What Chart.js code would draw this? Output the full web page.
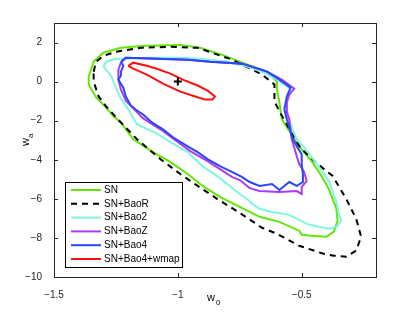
<!DOCTYPE html>
<html>
<head>
<meta charset="utf-8">
<script src="https://cdn.jsdelivr.net/npm/chart.js@4.4.0/dist/chart.umd.min.js"></script>
<style>body{margin:0;background:#fff}</style>
</head>
<body>
<canvas id="c" width="415" height="313"></canvas>
<script>
// --- data (w0, wa) ---
const xTicks = [-1.5, -1, -0.5];
const yTicks = [-10, -8, -6, -4, -2, 0, 2];
const labels = ['SN', 'SN+BaoR', 'SN+Bao2', 'SN+BaoZ', 'SN+Bao4', 'SN+Bao4+wmap'];

const snX = [-1.36,-1.34,-1.30,-1.23,-1.13,-0.99,-0.91,-0.81,-0.74,-0.64,-0.60,-0.60,-0.59,-0.58,-0.56,-0.51,-0.46,-0.43,-0.39,-0.36,-0.355,-0.37,-0.40,-0.46,-0.50,-0.51,-0.59,-0.67,-0.71,-0.75,-0.83,-0.90,-0.96,-1.03,-1.10,-1.18,-1.23,-1.26,-1.29,-1.33,-1.36,-1.36];
const snY = [0.25,1.02,1.48,1.73,1.83,1.88,1.73,1.32,0.97,0.51,0,-0.41,-1.07,-1.93,-2.34,-3.31,-4.07,-4.63,-5.50,-6.51,-7.12,-7.68,-7.94,-7.89,-7.84,-7.63,-7.18,-6.92,-6.67,-6.41,-5.90,-5.34,-4.73,-4.12,-3.61,-2.95,-2.09,-1.78,-1.32,-0.81,-0.15,0.25];

const baoRX = [-1.34,-1.33,-1.30,-1.25,-1.15,-1.03,-0.92,-0.78,-0.66,-0.61,-0.61,-0.61,-0.585,-0.56,-0.52,-0.50,-0.44,-0.375,-0.32,-0.28,-0.26,-0.28,-0.32,-0.37,-0.415,-0.51,-0.60,-0.66,-0.75,-0.84,-0.92,-0.99,-1.07,-1.165,-1.23,-1.29,-1.32,-1.34,-1.34];
const baoRY = [0.51,1.02,1.32,1.53,1.73,1.78,1.73,1.12,0.36,-0.15,-0.56,-1.02,-1.63,-2.19,-3.10,-3.46,-4.17,-4.83,-6.01,-7.02,-7.94,-8.65,-8.96,-8.91,-8.80,-8.40,-7.79,-7.48,-6.72,-6.01,-5.34,-4.73,-3.97,-2.95,-2.09,-1.27,-0.76,0,0.51];

const bao2X = [-1.30,-1.29,-1.25,-1.21,-1.13,-0.99,-0.91,-0.80,-0.73,-0.66,-0.60,-0.545,-0.55,-0.56,-0.56,-0.55,-0.52,-0.48,-0.43,-0.39,-0.36,-0.35,-0.34,-0.36,-0.39,-0.43,-0.48,-0.55,-0.62,-0.67,-0.70,-0.72,-0.75,-0.83,-0.90,-0.96,-1.03,-1.085,-1.165,-1.20,-1.23,-1.25,-1.27,-1.29,-1.30];
const bao2Y = [0.76,1.02,1.17,1.17,1.22,1.22,1.17,1.02,0.81,0.51,0.10,-0.36,-0.61,-1.02,-1.68,-2.04,-2.95,-3.51,-4.38,-5.09,-6.16,-6.77,-7.12,-7.43,-7.53,-7.43,-7.28,-6.82,-6.67,-6.51,-6.26,-6.01,-5.75,-4.94,-4.33,-3.61,-3.10,-2.65,-2.19,-1.42,-0.87,-0.31,0.31,0.61,0.76];

const baoZX = [-1.23,-1.21,-1.085,-0.96,-0.87,-0.74,-0.64,-0.58,-0.53,-0.55,-0.56,-0.56,-0.55,-0.54,-0.52,-0.51,-0.49,-0.48,-0.50,-0.50,-0.52,-0.59,-0.67,-0.71,-0.75,-0.78,-0.83,-0.88,-0.95,-1.01,-1.07,-1.14,-1.18,-1.21,-1.23,-1.24,-1.24,-1.23];
const baoZY = [0.97,1.22,1.17,1.12,1.02,0.92,0.51,0.10,-0.36,-0.66,-1.07,-1.53,-1.93,-2.95,-3.82,-4.22,-4.63,-5.09,-5.39,-5.75,-5.60,-5.65,-5.60,-5.45,-5.04,-4.89,-4.48,-4.07,-3.56,-3.00,-2.44,-1.88,-1.37,-0.97,-0.41,0.10,0.61,0.97];

const bao4X = [-1.23,-1.21,-1.085,-0.96,-0.87,-0.74,-0.64,-0.59,-0.545,-0.56,-0.57,-0.56,-0.55,-0.54,-0.52,-0.50,-0.50,-0.495,-0.495,-0.52,-0.55,-0.59,-0.62,-0.67,-0.71,-0.74,-0.78,-0.83,-0.88,-0.92,-0.96,-1.02,-1.06,-1.105,-1.14,-1.165,-1.19,-1.21,-1.22,-1.24,-1.23,-1.23,-1.22,-1.23];
const bao4Y = [1.02,1.22,1.17,1.12,1.02,0.92,0.51,0.10,-0.31,-0.76,-1.42,-1.93,-2.34,-2.80,-3.31,-3.72,-4.22,-4.73,-5.14,-5.34,-5.14,-5.55,-5.24,-5.34,-5.14,-4.89,-4.63,-4.33,-3.97,-3.61,-3.31,-2.85,-2.44,-2.09,-1.68,-1.48,-1.22,-0.76,-0.31,0.10,0.31,0.51,0.81,1.02];

const wmapX = [-1.20,-1.18,-1.125,-1.085,-1.03,-0.98,-0.92,-0.88,-0.85,-0.86,-0.89,-0.93,-0.99,-1.06,-1.125,-1.18,-1.20];
const wmapY = [0.81,0.97,0.81,0.66,0.41,0.10,-0.20,-0.46,-0.76,-0.92,-0.92,-0.76,-0.51,-0.10,0.36,0.66,0.81];

const bestX = [-1];
const bestY = [0];

const colors = ['#62e60a', '#000000', '#80f5e0', '#aa3cf5', '#2846fa', '#ff1010'];

function pts(xs, ys) {
    return xs.map((x, i) => ({x: x, y: ys[i]}));
}

const series = [[snX, snY], [baoRX, baoRY], [bao2X, bao2Y], [baoZX, baoZY], [bao4X, bao4Y], [wmapX, wmapY]];

const datasets = series.map((s, i) => ({
    label: labels[i],
    data: pts(s[0], s[1]),
    showLine: true,
    borderColor: colors[i],
    borderWidth: 2,
    borderDash: i === 1 ? [6, 5] : [],
    pointRadius: 0,
    tension: 0,
    order: 6 - i
}));
datasets.push({
    label: 'best',
    data: pts(bestX, bestY),
    pointStyle: 'cross',
    pointRadius: 4,
    borderColor: '#000',
    borderWidth: 2,
    order: 0
});

const FONT = "'Liberation Sans', Arial, sans-serif";

// caja, marcas hacia dentro, títulos con subíndice y leyenda
const frame = {
    id: 'frame',
    afterDraw(chart) {
        const {ctx, chartArea: a, scales: {x, y}} = chart;
        ctx.save();
        ctx.strokeStyle = '#262626';
        ctx.lineWidth = 1;
        ctx.strokeRect(a.left + 0.5, a.top + 0.5, a.right - a.left, a.bottom - a.top);
        ctx.beginPath();
        xTicks.forEach(v => {
            const px = Math.round(x.getPixelForValue(v)) + 0.5;
            ctx.moveTo(px, a.bottom); ctx.lineTo(px, a.bottom - 4);
            ctx.moveTo(px, a.top); ctx.lineTo(px, a.top + 4);
        });
        yTicks.forEach(v => {
            const py = Math.round(y.getPixelForValue(v)) + 0.5;
            ctx.moveTo(a.left, py); ctx.lineTo(a.left + 4, py);
            ctx.moveTo(a.right, py); ctx.lineTo(a.right - 4, py);
        });
        ctx.stroke();

        // títulos de ejes
        ctx.fillStyle = '#000';
        ctx.textBaseline = 'alphabetic';
        ctx.font = '11px ' + FONT;
        ctx.fillText('w', 207, 301);
        ctx.font = '8px ' + FONT;
        ctx.fillText('0', 216, 305);
        ctx.save();
        ctx.translate(29, 146);
        ctx.rotate(-Math.PI / 2);
        ctx.font = '11px ' + FONT;
        ctx.fillText('w', 0, 0);
        ctx.font = '8px ' + FONT;
        ctx.fillText('a', 8, 4);
        ctx.restore();

        // leyenda
        const lx = 65, ly = 182, lw = 117, lh = 85;
        ctx.fillStyle = '#fff';
        ctx.fillRect(lx, ly, lw, lh);
        ctx.strokeStyle = '#000';
        ctx.strokeRect(lx + 0.5, ly + 0.5, lw, lh);
        ctx.font = '10px ' + FONT;
        ctx.textBaseline = 'middle';
        labels.forEach((lab, i) => {
            const ry = 190 + i * 13.8;
            ctx.beginPath();
            ctx.strokeStyle = colors[i];
            ctx.lineWidth = 2;
            ctx.setLineDash(i === 1 ? [6, 5] : []);
            ctx.moveTo(71, ry); ctx.lineTo(101, ry);
            ctx.stroke();
            ctx.setLineDash([]);
            ctx.fillStyle = '#000';
            ctx.fillText(lab, 104, ry);
        });
        ctx.restore();
    }
};

const fmt = v => String(v).replace('-', '\u2212');

new Chart(document.getElementById('c'), {
    type: 'scatter',
    data: {datasets: datasets},
    options: {
        responsive: false,
        animation: false,
        devicePixelRatio: 1,
        layout: {padding: {top: 23, right: 39, left: 0, bottom: 0}},
        plugins: {legend: {display: false}, tooltip: {enabled: false}},
        scales: {
            x: {
                type: 'linear', min: -1.5, max: -0.2,
                grid: {display: false}, border: {display: false},
                afterBuildTicks: axis => { axis.ticks = xTicks.map(v => ({value: v})); },
                afterFit: s => { s.height = 36; },
                ticks: {padding: 4, color: '#262626', font: {family: FONT, size: 10}, callback: fmt, maxRotation: 0, autoSkip: false}
            },
            y: {
                type: 'linear', min: -10, max: 3,
                grid: {display: false}, border: {display: false},
                afterBuildTicks: axis => { axis.ticks = yTicks.map(v => ({value: v})); },
                afterFit: s => { s.width = 54; },
                ticks: {padding: 4, color: '#262626', font: {family: FONT, size: 10}, callback: fmt, autoSkip: false}
            }
        }
    },
    plugins: [frame]
});
</script>
</body>
</html>
